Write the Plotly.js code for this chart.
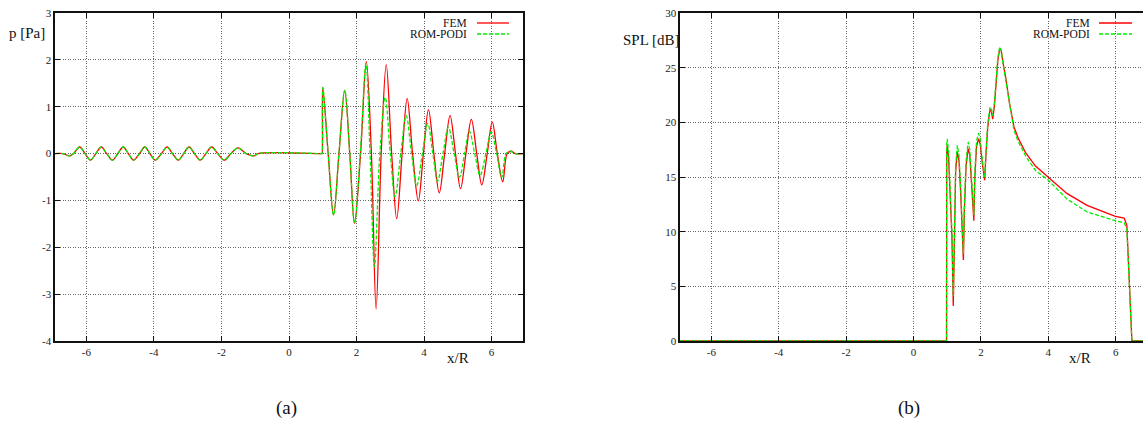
<!DOCTYPE html>
<html>
<head>
<meta charset="utf-8">
<script src="https://cdn.plot.ly/plotly-3.0.1.min.js"></script>
<style>html,body{margin:0;padding:0;background:#fff;}#chart{width:1143px;height:433px;}</style>
</head>
<body>
<div id="chart"></div>
<script>
// ---------- Data ----------
// (a) pressure p [Pa] vs x/R : left region where FEM and ROM-PODI coincide
const pLeftX = [-6.93,-6.70,-6.50,-6.38,-6.20,-6.04,-5.88,-5.72,-5.56,-5.40,-5.23,-5.07,-4.91,-4.76,-4.60,-4.43,-4.27,-4.12,-3.96,-3.78,-3.61,-3.45,-3.28,-3.12,-2.96,-2.80,-2.63,-2.46,-2.29,-2.11,-1.92,-1.72,-1.51,-1.27,-1.03,-0.92,0.90,0.975,0.98];
const pLeftVal = [0,0,-0.05,0,0.14,0,-0.14,0,0.14,0,-0.14,0,0.14,0,-0.14,0,0.14,0,-0.14,0,0.14,0,-0.14,0,0.14,0,-0.14,0,0.14,0,-0.14,0,0.12,0,-0.05,0,0,0,0];
// right region, FEM
const femRightX = [1.00,1.16,1.32,1.48,1.65,1.80,1.94,2.12,2.29,2.44,2.58,2.73,2.88,3.04,3.19,3.35,3.50,3.66,3.83,3.98,4.13,4.29,4.45,4.61,4.77,4.93,5.08,5.24,5.40,5.56,5.71,5.87,6.02,6.17,6.33,6.46,6.58,6.70,6.93];
const femRightP = [1.41,0,-1.31,0,1.35,0,-1.49,0,1.96,0,-3.32,0,1.90,0,-1.39,0,1.18,0,-1.01,0,0.94,0,-0.84,0,0.81,0,-0.75,0,0.73,0,-0.67,0,0.67,0,-0.60,0,0.05,0,0];
// right region, ROM-PODI
const romRightX = [1.00,1.16,1.32,1.48,1.65,1.80,1.94,2.11,2.28,2.40,2.53,2.69,2.85,3.00,3.14,3.31,3.47,3.63,3.78,3.95,4.11,4.26,4.40,4.56,4.72,4.89,5.05,5.20,5.34,5.50,5.66,5.83,5.99,6.15,6.30,6.43,6.55,6.68,6.93];
const romRightP = [1.41,0,-1.31,0,1.35,0,-1.49,0,1.92,0,-2.41,0,1.20,0,-0.92,0,0.81,0,-0.69,0,0.64,0,-0.59,0,0.56,0,-0.51,0,0.48,0,-0.47,0,0.46,0,-0.51,0,0.05,0,0];

// (b) SPL [dB] vs x/R
const splX = [-6.93,0.98,0.985,1.00,1.04,1.09,1.14,1.18,1.21,1.25,1.30,1.35,1.40,1.45,1.48,1.51,1.56,1.62,1.67,1.72,1.77,1.79,1.82,1.87,1.93,1.98,2.04,2.09,2.11,2.15,2.20,2.27,2.31,2.35,2.40,2.45,2.50,2.56,2.60,2.66,2.73,2.85,2.98,3.10,3.22,3.33,3.62,4.00,4.55,5.15,5.99,6.25,6.33,6.41,6.48,6.93];
const splFEM = [0,0,17.4,17.9,16.8,13.5,9.5,3.2,10.5,15.5,17.3,16.5,13.5,10.0,7.4,12.0,16.0,17.6,17.0,14.5,11.8,11.0,15.0,17.8,18.5,18.0,16.3,15.0,14.7,17.0,19.5,21.2,21.0,20.3,21.5,23.5,25.6,26.8,26.6,25.4,24.2,21.7,19.6,18.6,17.8,17.2,16.0,15.0,13.5,12.4,11.4,11.25,10.6,5.0,0,0];
const splROM = [0,0,18.0,18.5,17.3,14.0,10.0,4.1,11.0,16.0,17.9,17.0,14.0,10.5,8.0,12.5,16.5,18.2,17.5,15.0,12.3,11.5,15.5,18.3,19.0,18.5,16.6,15.2,14.9,17.3,19.8,21.4,21.2,20.6,21.8,23.8,25.9,26.9,26.6,25.3,24.0,21.4,19.3,18.3,17.5,16.9,15.6,14.7,13.0,11.8,11.0,10.8,10.3,4.8,0,0];

// tick values and labels (hyphen minus as in the reference)
const xTicks = [-6,-4,-2,0,2,4,6];
const xTickText = ['-6','-4','-2','0','2','4','6'];
const pTicks = [-4,-3,-2,-1,0,1,2,3];
const pTickText = ['-4','-3','-2','-1','0','1','2','3'];
const splTicks = [0,5,10,15,20,25,30];
const splTickText = ['0','5','10','15','20','25','30'];
const seriesNames = ['FEM','ROM-PODI'];

// ---------- Styling ----------
const W = 1143, H = 433;
const RED = '#ff0000', GREEN = '#00ee00';
const serif = 'Liberation Serif, Times New Roman, serif';
const px = v => v / W;
const py = v => 1 - v / H;

const femX = pLeftX.concat(femRightX), femP = pLeftVal.concat(femRightP);
const romX = pLeftX.concat(romRightX), romP = pLeftVal.concat(romRightP);

const traces = [
  {x: femX, y: femP, xaxis:'x', yaxis:'y', mode:'lines', name:seriesNames[0],
   line:{color:RED, width:1.3, shape:'spline', smoothing:1}},
  {x: romX, y: romP, xaxis:'x', yaxis:'y', mode:'lines', name:seriesNames[1],
   line:{color:GREEN, width:1.3, dash:'4px,2px', shape:'spline', smoothing:1}},
  {x: splX, y: splFEM, xaxis:'x2', yaxis:'y2', mode:'lines', name:seriesNames[0],
   line:{color:RED, width:1.3}},
  {x: splX, y: splROM, xaxis:'x2', yaxis:'y2', mode:'lines', name:seriesNames[1],
   line:{color:GREEN, width:1.3, dash:'4px,2px'}}
];

const axisCommon = {
  showline:true, linecolor:'#111', linewidth:1.6,
  ticks:'inside', ticklen:5, tickcolor:'#111', tickwidth:1,
  showgrid:true, gridcolor:'#666', gridwidth:1, griddash:'1px,1.5px',
  zeroline:false, tickfont:{family:serif, size:11, color:'#222'},
  tickmode:'array', fixedrange:true
};

const yDom = [1 - 341/H, 1 - 13/H];
const layout = {
  width:W, height:H, margin:{l:0,r:0,t:0,b:0},
  paper_bgcolor:'#fff', plot_bgcolor:'#fff', showlegend:false,
  xaxis: Object.assign({}, axisCommon, {domain:[px(55), px(523)], range:[-6.93,6.93], tickvals:xTicks, ticktext:xTickText, mirror:'ticks', anchor:'y'}),
  yaxis: Object.assign({}, axisCommon, {domain:yDom, range:[-4,3], tickvals:pTicks, ticktext:pTickText, mirror:'ticks', anchor:'x'}),
  xaxis2: Object.assign({}, axisCommon, {domain:[px(680), 1], range:[-6.93,6.81], tickvals:xTicks, ticktext:xTickText, mirror:'ticks', anchor:'y2'}),
  yaxis2: Object.assign({}, axisCommon, {domain:yDom, range:[0,30], tickvals:splTicks, ticktext:splTickText, mirror:false, anchor:'x2'}),
  annotations: [
    {xref:'paper', yref:'paper', x:px(27), y:py(33), text:'p [Pa]', showarrow:false, xanchor:'center', yanchor:'middle', font:{family:serif, size:15, color:'#111'}},
    {xref:'paper', yref:'paper', x:px(458), y:py(358), text:'x/R', showarrow:false, xanchor:'center', yanchor:'middle', font:{family:serif, size:15, color:'#111'}},
    {xref:'paper', yref:'paper', x:px(651), y:py(40), text:'SPL [dB]', showarrow:false, xanchor:'center', yanchor:'middle', font:{family:serif, size:15, color:'#111'}},
    {xref:'paper', yref:'paper', x:px(1080), y:py(358), text:'x/R', showarrow:false, xanchor:'center', yanchor:'middle', font:{family:serif, size:15, color:'#111'}},
    {xref:'paper', yref:'paper', x:px(286), y:py(408), text:'(a)', showarrow:false, xanchor:'center', yanchor:'middle', font:{family:serif, size:19, color:'#111'}},
    {xref:'paper', yref:'paper', x:px(909), y:py(408), text:'(b)', showarrow:false, xanchor:'center', yanchor:'middle', font:{family:serif, size:19, color:'#111'}},
    // legends
    {xref:'paper', yref:'paper', x:px(469), y:py(23), text:seriesNames[0], showarrow:false, xanchor:'right', yanchor:'middle', font:{family:serif, size:11.5, color:'#111'}},
    {xref:'paper', yref:'paper', x:px(469), y:py(34), text:seriesNames[1], showarrow:false, xanchor:'right', yanchor:'middle', font:{family:serif, size:11.5, color:'#111'}},
    {xref:'paper', yref:'paper', x:px(1092), y:py(23), text:seriesNames[0], showarrow:false, xanchor:'right', yanchor:'middle', font:{family:serif, size:11.5, color:'#111'}},
    {xref:'paper', yref:'paper', x:px(1092), y:py(34), text:seriesNames[1], showarrow:false, xanchor:'right', yanchor:'middle', font:{family:serif, size:11.5, color:'#111'}}
  ],
  shapes: [
    {type:'line', xref:'paper', yref:'paper', x0:px(477), x1:px(509), y0:py(23), y1:py(23), line:{color:RED, width:1.3}},
    {type:'line', xref:'paper', yref:'paper', x0:px(477), x1:px(509), y0:py(34), y1:py(34), line:{color:GREEN, width:1.3, dash:'4px,2px'}},
    {type:'line', xref:'paper', yref:'paper', x0:px(1099), x1:px(1132), y0:py(23), y1:py(23), line:{color:RED, width:1.3}},
    {type:'line', xref:'paper', yref:'paper', x0:px(1099), x1:px(1132), y0:py(34), y1:py(34), line:{color:GREEN, width:1.3, dash:'4px,2px'}}
  ]
};

Plotly.newPlot('chart', traces, layout, {staticPlot:true, displayModeBar:false});
</script>
</body>
</html>
